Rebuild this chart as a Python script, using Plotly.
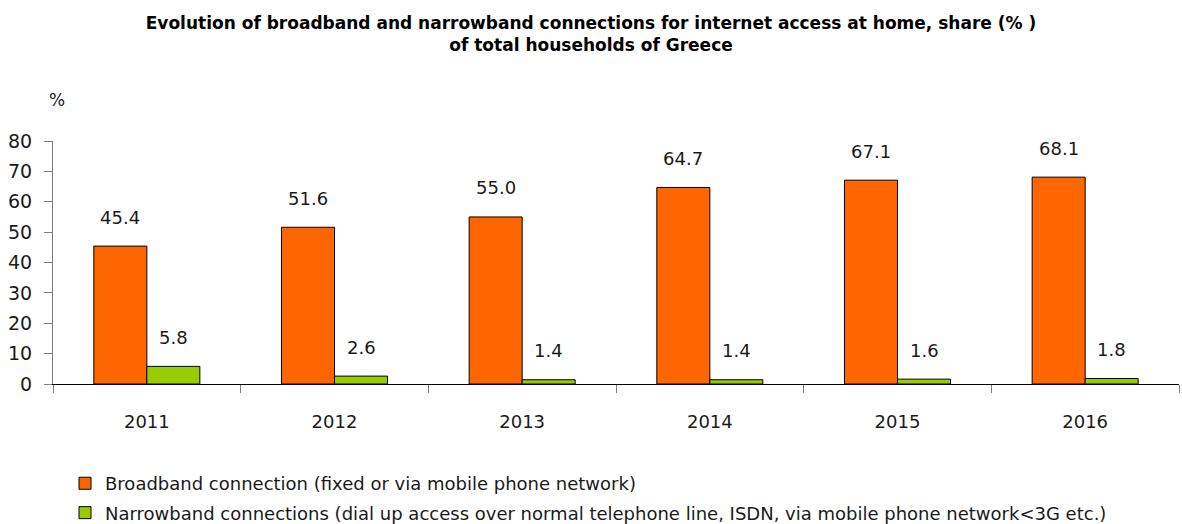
import plotly.graph_objects as go

years = ["2011", "2012", "2013", "2014", "2015", "2016"]
broadband = [45.4, 51.6, 55.0, 64.7, 67.1, 68.1]
narrowband = [5.8, 2.6, 1.4, 1.4, 1.6, 1.8]
y_ticks = [0, 10, 20, 30, 40, 50, 60, 70, 80]

broadband_name = "Broadband connection (fixed or via mobile phone network)"
narrowband_name = ("Narrowband connections (dial up access over normal telephone line, "
                   "ISDN, via mobile phone network<3G etc.)")
title_text = ("<b>Evolution of broadband and narrowband connections for internet access at home, share (% )"
              "<br>of total households of Greece</b>")

FONT = "DejaVu Sans"
TEXT_COLOR = "#1a1a1a"

fig = go.Figure()
fig.add_trace(go.Bar(
    x=years, y=broadband, name=broadband_name, legendgroup="bb",
    marker=dict(color="#FF6600", line=dict(color="#000000", width=1)),
))
fig.add_trace(go.Bar(
    x=years, y=narrowband, name=narrowband_name, legendgroup="nb",
    marker=dict(color="#99CC00", line=dict(color="#000000", width=1)),
))

# value labels above each bar (x given as category index)
half_bar_px = 26.5
for i, v in enumerate(broadband):
    fig.add_annotation(x=i, y=v, text=f"{v:.1f}", showarrow=False,
                       xshift=-half_bar_px, yshift=29, yanchor="middle",
                       font=dict(family=FONT, size=18, color=TEXT_COLOR))
for i, v in enumerate(narrowband):
    fig.add_annotation(x=i, y=v, text=f"{v:.1f}", showarrow=False,
                       xshift=half_bar_px, yshift=29, yanchor="middle",
                       font=dict(family=FONT, size=18, color=TEXT_COLOR))

# unit label above the y axis
fig.add_annotation(xref="paper", yref="paper", x=0.0036, y=1.169, text="%",
                   showarrow=False, xanchor="center", yanchor="middle",
                   font=dict(family=FONT, size=17, color=TEXT_COLOR))

fig.update_layout(
    width=1182, height=524,
    margin=dict(l=53, r=3, t=141, b=140, autoexpand=False),
    paper_bgcolor="white", plot_bgcolor="white",
    barmode="group", bargap=0.435, bargroupgap=0,
    font=dict(family=FONT, size=16, color=TEXT_COLOR),
    title=dict(text=title_text, x=0.5, xanchor="center", y=0.944, yanchor="top",
               font=dict(family=FONT, size=17, color="#000000")),
    showlegend=True,
    legend=dict(orientation="v", xref="container", yref="container",
                x=0.055, xanchor="left", y=0.1125, yanchor="top",
                traceorder="grouped", tracegroupgap=3,
                font=dict(family=FONT, size=18, color=TEXT_COLOR),
                bgcolor="rgba(0,0,0,0)"),
    xaxis=dict(
        type="category", range=[-0.5, 5.5], showgrid=False, zeroline=False,
        automargin=False,
        showline=True, linecolor="#000000", linewidth=1,
        ticks="outside", tickson="boundaries", ticklen=8, tickcolor="#808080",
        ticklabelstandoff=21,
        tickfont=dict(family=FONT, size=18, color=TEXT_COLOR),
    ),
    yaxis=dict(
        range=[0, 80], tickvals=y_ticks, showgrid=False, zeroline=False,
        automargin=False,
        showline=True, linecolor="#808080", linewidth=1,
        ticks="outside", ticklen=8, tickcolor="#808080",
        ticklabelstandoff=8,
        tickfont=dict(family=FONT, size=19, color=TEXT_COLOR),
    ),
)

fig.write_html("out.html")
